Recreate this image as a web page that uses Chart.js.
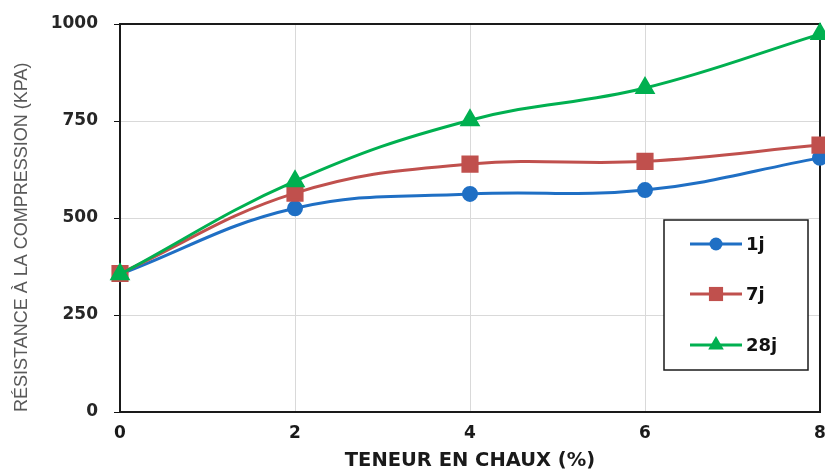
<!DOCTYPE html>
<html>
<head>
<meta charset="utf-8">
<script src="https://cdn.jsdelivr.net/npm/chart.js@4/dist/chart.umd.min.js"></script>
<style>
  html, body { margin: 0; padding: 0; background: #fff; }
  #wrap { width: 825px; height: 471px; }
</style>
</head>
<body>
<div id="wrap"><canvas id="chart" width="825" height="471"></canvas></div>
<script>
// Données
const teneurChaux = [0, 2, 4, 6, 8];
const serie1j = [355, 525, 562, 572, 655];
const serie7j = [357, 564, 639, 646, 688];
const serie28j = [355, 595, 752, 835, 974];
const nomsSeries = ['1j', '7j', '28j'];
const ticksY = [0, 250, 500, 750, 1000];
const ticksX = [0, 2, 4, 6, 8];

const couleurs = ['#1f6fc4', '#c0504d', '#00b050'];
const formes = ['circle', 'rect', 'triangle'];
const rayons = [6.5, 10, 9];
const ordres = [2, 1, 0]; // 28j dessiné par-dessus

const policeGras = 'DejaVu Sans';

function points(valeurs) {
    return teneurChaux.map((x, i) => ({ x: x, y: valeurs[i] }));
}

// Cadre noir autour de la zone de tracé
const cadrePlugin = {
    id: 'cadre',
    beforeDatasetsDraw(chart) {
        const { ctx, chartArea: a } = chart;
        ctx.save();
        ctx.strokeStyle = '#1a1a1a';
        ctx.lineWidth = 2;
        ctx.strokeRect(a.left, a.top, a.right - a.left, a.bottom - a.top);
        ctx.restore();
    }
};

// Légende encadrée, dessinée à la main
function dessinerMarqueur(ctx, forme, x, y, r) {
    ctx.beginPath();
    if (forme === 'circle') {
        ctx.arc(x, y, r, 0, Math.PI * 2);
    } else if (forme === 'rect') {
        const s = r * Math.SQRT1_2;
        ctx.rect(x - s, y - s, 2 * s, 2 * s);
    } else {
        ctx.moveTo(x, y - r);
        ctx.lineTo(x + r * Math.sin(2 * Math.PI / 3), y - r * Math.cos(2 * Math.PI / 3));
        ctx.lineTo(x + r * Math.sin(4 * Math.PI / 3), y - r * Math.cos(4 * Math.PI / 3));
        ctx.closePath();
    }
    ctx.fill();
}

const legendePlugin = {
    id: 'legendeBoite',
    afterDraw(chart) {
        const ctx = chart.ctx;
        const bx = 664, by = 220, bw = 144, bh = 150;
        ctx.save();
        ctx.fillStyle = '#fff';
        ctx.fillRect(bx, by, bw, bh);
        ctx.strokeStyle = '#1a1a1a';
        ctx.lineWidth = 1.5;
        ctx.strokeRect(bx, by, bw, bh);
        const lignesY = [244, 294, 345];
        chart.data.datasets.forEach((ds, i) => {
            const y = lignesY[i];
            ctx.strokeStyle = ds.borderColor;
            ctx.lineWidth = 3;
            ctx.beginPath();
            ctx.moveTo(690, y);
            ctx.lineTo(742, y);
            ctx.stroke();
            ctx.fillStyle = ds.pointBackgroundColor;
            dessinerMarqueur(ctx, formes[i], 716, y, rayons[i]);
            ctx.fillStyle = '#111';
            ctx.font = 'bold 18px "' + policeGras + '"';
            ctx.textBaseline = 'middle';
            ctx.textAlign = 'left';
            ctx.fillText(ds.label, 746, y + 1);
        });
        ctx.restore();
    }
};

const seriesValeurs = [serie1j, serie7j, serie28j];

new Chart(document.getElementById('chart'), {
    type: 'line',
    data: {
        datasets: seriesValeurs.map((v, i) => ({
            label: nomsSeries[i],
            data: points(v),
            order: ordres[i],
            borderColor: couleurs[i],
            backgroundColor: couleurs[i],
            pointBackgroundColor: couleurs[i],
            pointBorderColor: couleurs[i],
            pointStyle: formes[i],
            pointRadius: rayons[i],
            borderWidth: 3,
            tension: 0.4,
            clip: false
        }))
    },
    options: {
        responsive: false,
        animation: false,
        layout: { autoPadding: false, padding: { top: 24, right: 5, bottom: 0, left: 0 } },
        plugins: {
            legend: { display: false },
            tooltip: { enabled: false }
        },
        scales: {
            x: {
                type: 'linear',
                min: 0,
                max: 8,
                afterBuildTicks: (axis) => { axis.ticks = ticksX.map(v => ({ value: v })); },
                afterFit: (axis) => {
                    axis.height = 59;
                    axis.paddingLeft = 0;
                    axis.paddingRight = 0;
                },
                grid: { color: '#d9d9d9', lineWidth: 1, drawTicks: false },
                border: { color: '#111', width: 2 },
                ticks: {
                    padding: 11,
                    color: '#1a1a1a',
                    callback: (v) => String(v),
                    font: { family: policeGras, size: 17, weight: 'bold' }
                },
                title: {
                    display: true,
                    text: 'TENEUR EN CHAUX (%)',
                    color: '#1a1a1a',
                    padding: { top: 0, bottom: 0 },
                    font: { family: policeGras, size: 19.5, weight: 'bold', lineHeight: 1 }
                }
            },
            y: {
                min: 0,
                max: 1000,
                afterBuildTicks: (axis) => { axis.ticks = ticksY.map(v => ({ value: v })); },
                afterFit: (axis) => {
                    axis.width = 120;
                    axis.paddingTop = 0;
                    axis.paddingBottom = 0;
                },
                grid: { color: '#d9d9d9', lineWidth: 1, tickColor: '#111', tickLength: 6 },
                border: { color: '#111', width: 2 },
                ticks: {
                    padding: 16,
                    color: '#262626',
                    callback: (v) => String(v),
                    font: { family: policeGras, size: 17, weight: 'bold' }
                },
                title: {
                    display: true,
                    text: 'RÉSISTANCE À LA COMPRESSION (KPA)',
                    align: 'start',
                    color: '#595959',
                    padding: { top: 11, bottom: 0 },
                    font: { family: 'Liberation Sans', size: 18, weight: 'normal' }
                }
            }
        }
    },
    plugins: [cadrePlugin, legendePlugin]
});
</script>
</body>
</html>
